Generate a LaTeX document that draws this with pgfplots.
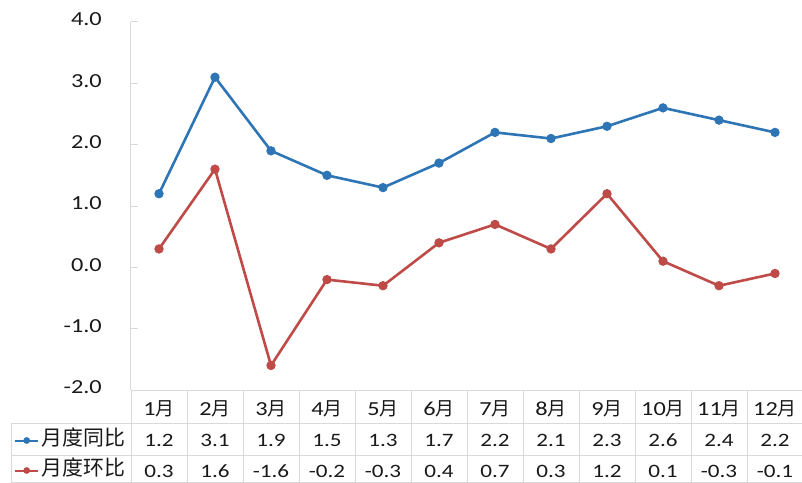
\documentclass[border=0pt]{standalone}
\usepackage{fontspec}
\setmainfont{Carlito}[FakeStretch=1.22]
\newfontfamily\cjk{Noto Sans CJK SC}
\usepackage{pgfplots}
\pgfplotsset{compat=1.18}
\definecolor{cblue}{RGB}{46,117,182}
\definecolor{cred}{RGB}{190,75,72}
\definecolor{gridc}{RGB}{217,217,217}
\definecolor{txt}{RGB}{25,25,25}
\newcommand{\yue}{{\cjk\fontsize{19}{19}\selectfont 月}}
\begin{document}
\begin{tikzpicture}
\begin{axis}[
  scale only axis, width=672bp, height=368bp,
  at={(0,0)}, anchor=south west,
  xmin=-0.5, xmax=11.5, ymin=-2, ymax=4,
  axis x line=bottom, axis y line=left,
  axis line style={gridc, line width=1bp, -},
  xtick={0,...,11},
  xticklabels={1\yue,2\yue,3\yue,4\yue,5\yue,6\yue,7\yue,8\yue,9\yue,10\yue,11\yue,12\yue},
  xticklabel style={anchor=base, inner sep=0pt, yshift=-25bp, font=\fontsize{20}{20}\selectfont, text=txt},
  typeset ticklabels with strut=false,
  x tick style={draw=none},
  ytick={-2,-1,0,1,2,3,4},
  y tick style={gridc, line width=1bp},
  tick align=inside, major tick length=7bp,
  yticklabel style={anchor=east, inner sep=0pt, xshift=-29bp, font=\fontsize{20}{20}\selectfont, text=txt},
  /pgf/number format/.cd, fixed, fixed zerofill, precision=1, assume math mode=true,
  /pgfplots/.cd,
  legend style={at={(rel axis cs:-0.1741,-0.1780)}, anchor=west, draw=none, fill=none, inner sep=0pt,
    row sep=10bp, column sep=0pt,
    nodes={inner sep=0pt, text height=15bp, text depth=5bp, text=txt},
    font=\cjk\fontsize{21}{21}\selectfont},
  legend cell align=left,
  legend image code/.code={%
    \draw[#1, line width=2bp, mark size=2.3bp, mark repeat=2, mark phase=2] plot coordinates {(0bp,0bp) (11.5bp,0bp) (23bp,0bp)};
    \path (25bp,0bp);},
  clip=false,
]
\addplot[cblue, line width=2.6bp, mark=*, mark size=3.3bp] coordinates {
 (0,1.2) (1,3.1) (2,1.9) (3,1.5) (4,1.3) (5,1.7) (6,2.2) (7,2.1) (8,2.3) (9,2.6) (10,2.4) (11,2.2)};
\addlegendentry{月度同比}
\addplot[cred, line width=2.6bp, mark=*, mark size=3.3bp] coordinates {
 (0,0.3) (1,1.6) (2,-1.6) (3,-0.2) (4,-0.3) (5,0.4) (6,0.7) (7,0.3) (8,1.2) (9,0.1) (10,-0.3) (11,-0.1)};
\addlegendentry{月度环比}
\end{axis}
% data table grid
\begin{scope}[gridc, line width=1bp]
  \draw (-119bp,-33bp) -- (672bp,-33bp);
  \draw (-119bp,-65bp) -- (672bp,-65bp);
  \draw (-119bp,-92.5bp) -- (672bp,-92.5bp);
  \draw (-119bp,-33bp) -- (-119bp,-93bp);
  \foreach \k in {1,...,12} { \draw (\k*56bp,0bp) -- (\k*56bp,-93bp); }
  \draw (0bp,0bp) -- (0bp,-93bp);
\end{scope}
\foreach \v [count=\i from 0] in {1.2,3.1,1.9,1.5,1.3,1.7,2.2,2.1,2.3,2.6,2.4,2.2} {
  \pgfmathsetmacro\xx{28+56*\i}
  \node[anchor=base, inner sep=0pt, text=txt, font=\fontsize{19}{19}\selectfont] at (\xx bp,-56bp) {\v};
}
\foreach \v [count=\i from 0] in {0.3,1.6,-1.6,-0.2,-0.3,0.4,0.7,0.3,1.2,0.1,-0.3,-0.1} {
  \pgfmathsetmacro\xx{28+56*\i}
  \node[anchor=base, inner sep=0pt, text=txt, font=\fontsize{19}{19}\selectfont] at (\xx bp,-87.5bp) {\v};
}
\pgfresetboundingbox
\path[use as bounding box] (-131bp,-93bp) rectangle (671bp,390bp);
\end{tikzpicture}
\end{document}
